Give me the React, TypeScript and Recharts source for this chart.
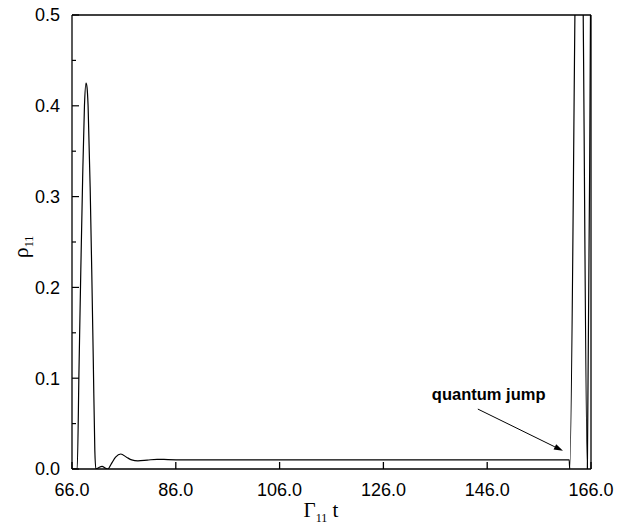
import { LineChart, Line, XAxis, YAxis, ReferenceLine, Label } from "recharts"

// time axis (Γ11 t) and population rho11
const tValues = [
  66.0, 67.0, 67.35, 67.7, 68.05, 68.4, 68.7, 68.9, 69.1, 69.5, 69.8, 70.1, 70.4, 70.6,
  71.0, 71.8, 72.4, 72.9, 73.6, 74.4, 75.4, 76.5, 77.5, 78.7, 80.5, 82.4, 84.5, 90.0,
  161.8, 161.9, 162.9, 163.7, 164.5, 165.3, 165.9, 166.0,
]
const rhoValues = [
  0, 0, 0.11, 0.22, 0.32, 0.4, 0.425, 0.42, 0.4, 0.31, 0.22, 0.12, 0.02, 0,
  0.001, 0.003, 0.001, 0, 0.006, 0.013, 0.0165, 0.013, 0.01, 0.009, 0.0098, 0.0107, 0.0104, 0.01,
  0.01, 0, 0.5, 1.0, 0.5, 0, 0.5, 0.6,
]

const xTicks = [66, 86, 106, 126, 146, 166]
const yTicks = [0, 0.05, 0.1, 0.15, 0.2, 0.25, 0.3, 0.35, 0.4, 0.45, 0.5]
const yLabelled = [0, 0.1, 0.2, 0.3, 0.4, 0.5]

const annotation = "quantum jump"
const arrowFrom = { t: 144.2, rho: 0.066 }
const arrowTo = { t: 160.6, rho: 0.02 }

const data = tValues.map((t, i) => ({ t, rho: rhoValues[i] }))

const sans = "'Liberation Sans', Arial, Helvetica, sans-serif"
const serif = "'Liberation Serif', 'Times New Roman', serif"

function YTick(props: any) {
  const { x, y, payload } = props
  const v = payload.value
  const major = yLabelled.some((m) => Math.abs(m - v) < 1e-6)
  const ax = x + 12
  return (
    <g>
      <line x1={ax} x2={ax + (major ? 7 : 4)} y1={y} y2={y} stroke="#000" strokeWidth={1.2} />
      {major && (
        <text x={x} y={y} dy="0.36em" textAnchor="end" fontSize={18} fontFamily={sans} fill="#000">
          {v.toFixed(1)}
        </text>
      )}
    </g>
  )
}

function Arrow(props: any) {
  const { x1, y1, x2, y2 } = props
  const dx = x2 - x1
  const dy = y2 - y1
  const len = Math.sqrt(dx * dx + dy * dy)
  const ux = dx / len
  const uy = dy / len
  const hl = 9
  const hw = 3
  const bx = x2 - ux * hl
  const by = y2 - uy * hl
  return (
    <g>
      <line x1={x1} y1={y1} x2={bx} y2={by} stroke="#000" strokeWidth={1} />
      <polygon
        points={`${x2},${y2} ${bx - uy * hw},${by + ux * hw} ${bx + uy * hw},${by - ux * hw}`}
        fill="#000"
      />
      <text x={x1 - 46} y={y1 - 9} fontSize={16.5} fontWeight="bold" fontFamily={sans} fill="#000">
        {annotation}
      </text>
    </g>
  )
}

function YTitle(props: any) {
  const { viewBox } = props
  const cx = viewBox.x + 28
  const cy = viewBox.y + viewBox.height / 2 + 5
  return (
    <text
      x={cx}
      y={cy}
      transform={`rotate(-90, ${cx}, ${cy})`}
      textAnchor="middle"
      fontFamily={serif}
      fontSize={22}
      fill="#000"
    >
      ρ
      <tspan fontSize={12} dy={5}>11</tspan>
    </text>
  )
}

function XTitle(props: any) {
  const { viewBox } = props
  const x = viewBox.x + viewBox.width / 2 - 28
  const y = viewBox.y + 48
  return (
    <text x={x} y={y} fontFamily={serif} fontSize={21} fill="#000">
      Γ
      <tspan fontSize={12} dy={5}>11</tspan>
      <tspan dy={-5}> t</tspan>
    </text>
  )
}

export default function App() {
  return (
    <div style={{ position: "absolute", left: 0, top: 0, background: "#fff" }}>
      <LineChart width={617} height={525} data={data} margin={{ top: 15, right: 26, bottom: 0, left: 0 }}>
        <XAxis
          dataKey="t"
          type="number"
          domain={[66, 166]}
          ticks={xTicks}
          tickFormatter={(v: number) => v.toFixed(1)}
          tickSize={-7}
          tickMargin={21}
          height={56}
          stroke="#000"
          strokeWidth={1.3}
          tick={{ fill: "#000", fontSize: 18, fontFamily: sans }}
          allowDataOverflow
        >
          <Label content={XTitle} />
        </XAxis>
        <YAxis
          type="number"
          domain={[0, 0.5]}
          ticks={yTicks}
          width={72}
          tickLine={false}
          tickSize={0}
          tickMargin={12}
          interval={0}
          stroke="#000"
          strokeWidth={1.3}
          tick={YTick}
          allowDataOverflow
        >
          <Label content={YTitle} />
        </YAxis>
        <ReferenceLine y={0.5} stroke="#000" strokeWidth={1.3} />
        <ReferenceLine x={166} stroke="#000" strokeWidth={1.3} />
        <ReferenceLine
          segment={[
            { x: arrowFrom.t, y: arrowFrom.rho },
            { x: arrowTo.t, y: arrowTo.rho },
          ]}
          shape={Arrow}
        />
        <Line
          type="monotone"
          dataKey="rho"
          stroke="#000"
          strokeWidth={1.2}
          dot={false}
          isAnimationActive={false}
        />
      </LineChart>
    </div>
  )
}
